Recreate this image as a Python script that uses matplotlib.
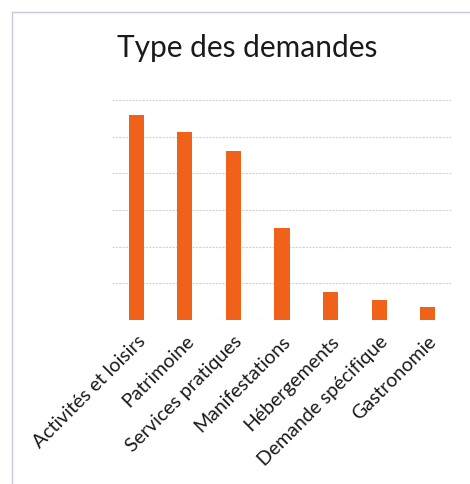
import matplotlib
matplotlib.use("Agg")
import matplotlib.pyplot as plt
from matplotlib.lines import Line2D

categories = ["Activités et loisirs", "Patrimoine", "Services pratiques",
              "Manifestations", "Hébergements", "Demande spécifique", "Gastronomie"]
values = [55.9, 51.3, 46.0, 25.1, 7.6, 5.4, 3.6]
yticks = [0, 10, 20, 30, 40, 50, 60]

plt.rcParams['font.family'] = ['Lato', 'DejaVu Sans']

fig = plt.figure(figsize=(4.7, 4.84), dpi=100)
ax = fig.add_axes([112/470, 1-320/484, 340/470, 220/484])

x = range(len(categories))
ax.bar(x, values, width=0.31, color="#f0621a", zorder=3)
ax.set_xlim(-0.5, len(categories)-0.5)
ax.set_ylim(0, 60)
ax.set_yticks(yticks)
ax.set_yticklabels([])
ax.tick_params(axis='y', length=0)
ax.tick_params(axis='x', length=0, pad=9)
ax.yaxis.grid(True, color="#d3d3d3", linewidth=0.8, linestyle=(0, (2, 1)), zorder=0)
for s in ax.spines.values():
    s.set_visible(False)
ax.set_xticks(list(x))
ax.set_xticklabels(categories, rotation=45, ha='right', rotation_mode='anchor',
                   fontsize=14, color="#1a1a1a")

fig.text(247/470, 1-48/484, "Type des demandes", ha='center', va='center',
         fontsize=21.5, color="#1a1a1a")

# cadre du graphique
fig.add_artist(Line2D([12/470, 12/470], [0, 1-12/484], color="#c8cbd6", lw=1))
fig.add_artist(Line2D([12/470, 1], [1-12/484, 1-12/484], color="#c8cbd6", lw=1))

fig.savefig("out.png", dpi=100)
